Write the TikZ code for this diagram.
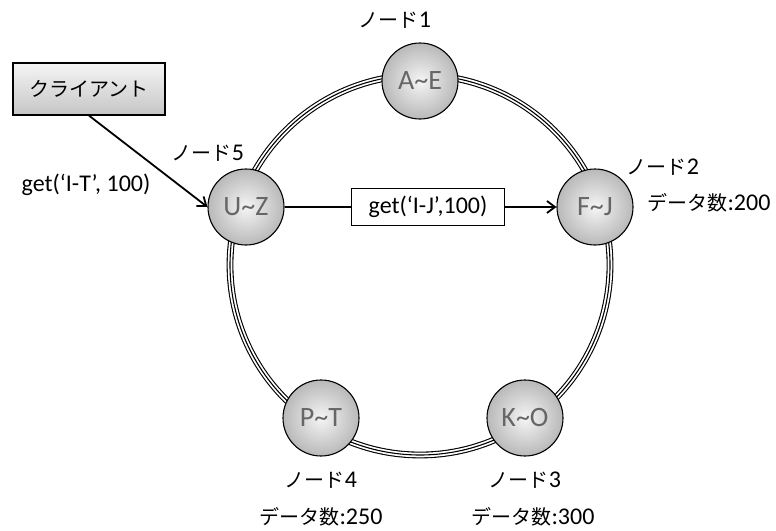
\documentclass[tikz,border=0pt]{standalone}
\usepackage{fontspec}
\setmainfont{Carlito}
\newfontfamily\jp{Noto Sans CJK JP}
\newcommand{\J}[1]{{\jp\fontsize{20}{24}\selectfont #1}}
\newcommand{\tl}{\textasciitilde}
\usetikzlibrary{arrows.meta,shapes.geometric}
\begin{document}
\begin{tikzpicture}[x=1pt,y=-1pt,
  ring/.style={line width=6.8pt, draw=black, postaction={draw=white, line width=4.6pt}, postaction={draw=black, line width=1.1pt}},
  srv/.style={circle, minimum size=76pt, inner sep=0pt, draw=black, line width=1.1pt, inner color=gray!8, outer color=gray!55, text=black!60, font=\fontsize{28}{30}\selectfont},
  lbl/.style={font=\fontsize{24}{26}\selectfont, inner sep=1pt},
  arr/.style={-{Straight Barb[length=8pt,width=12pt]}, line width=1.8pt},
]
\useasboundingbox (0,0) rectangle (776,530);
\draw[ring] (420,265) circle [radius=190];
\node[srv] (a) at (420,81) {A\tl E};
\node[srv] (f) at (595,207) {F\tl J};
\node[srv] (k) at (525,418) {K\tl O};
\node[srv] (p) at (321,418) {P\tl T};
\node[srv] (u) at (246,207) {U\tl Z};
\node[lbl] (la) at (395,20) {\J{ノード}1};
\node[lbl] (lu) at (208,153) {\J{ノード}5};
\node[lbl] (lf) at (663,167) {\J{ノード}2};
\node[lbl] (df) at (709,203) {\J{データ数}:200};
\node[lbl] (lp) at (321,480) {\J{ノード}4};
\node[lbl] (dp) at (321,517) {\J{データ数}:250};
\node[lbl] (lk) at (525,480) {\J{ノード}3};
\node[lbl] (dk) at (533,517) {\J{データ数}:300};
\node[draw=black, line width=1.2pt, top color=gray!8, bottom color=gray!45, minimum width=152pt, minimum height=52pt] (c) at (89,89) {\J{クライアント}};
\draw[arr] (c.south) -- (u.west);
\node[lbl] (gt) at (86,185) {get(‘I-T’, 100)};
\draw[arr] (u) -- (f);
\node[draw=black, fill=white, line width=1.8pt, minimum width=153pt, minimum height=37pt, inner sep=0pt, font=\fontsize{24}{26}\selectfont] (gj) at (428,207) {get(‘I-J’,100)};
\end{tikzpicture}
\end{document}
